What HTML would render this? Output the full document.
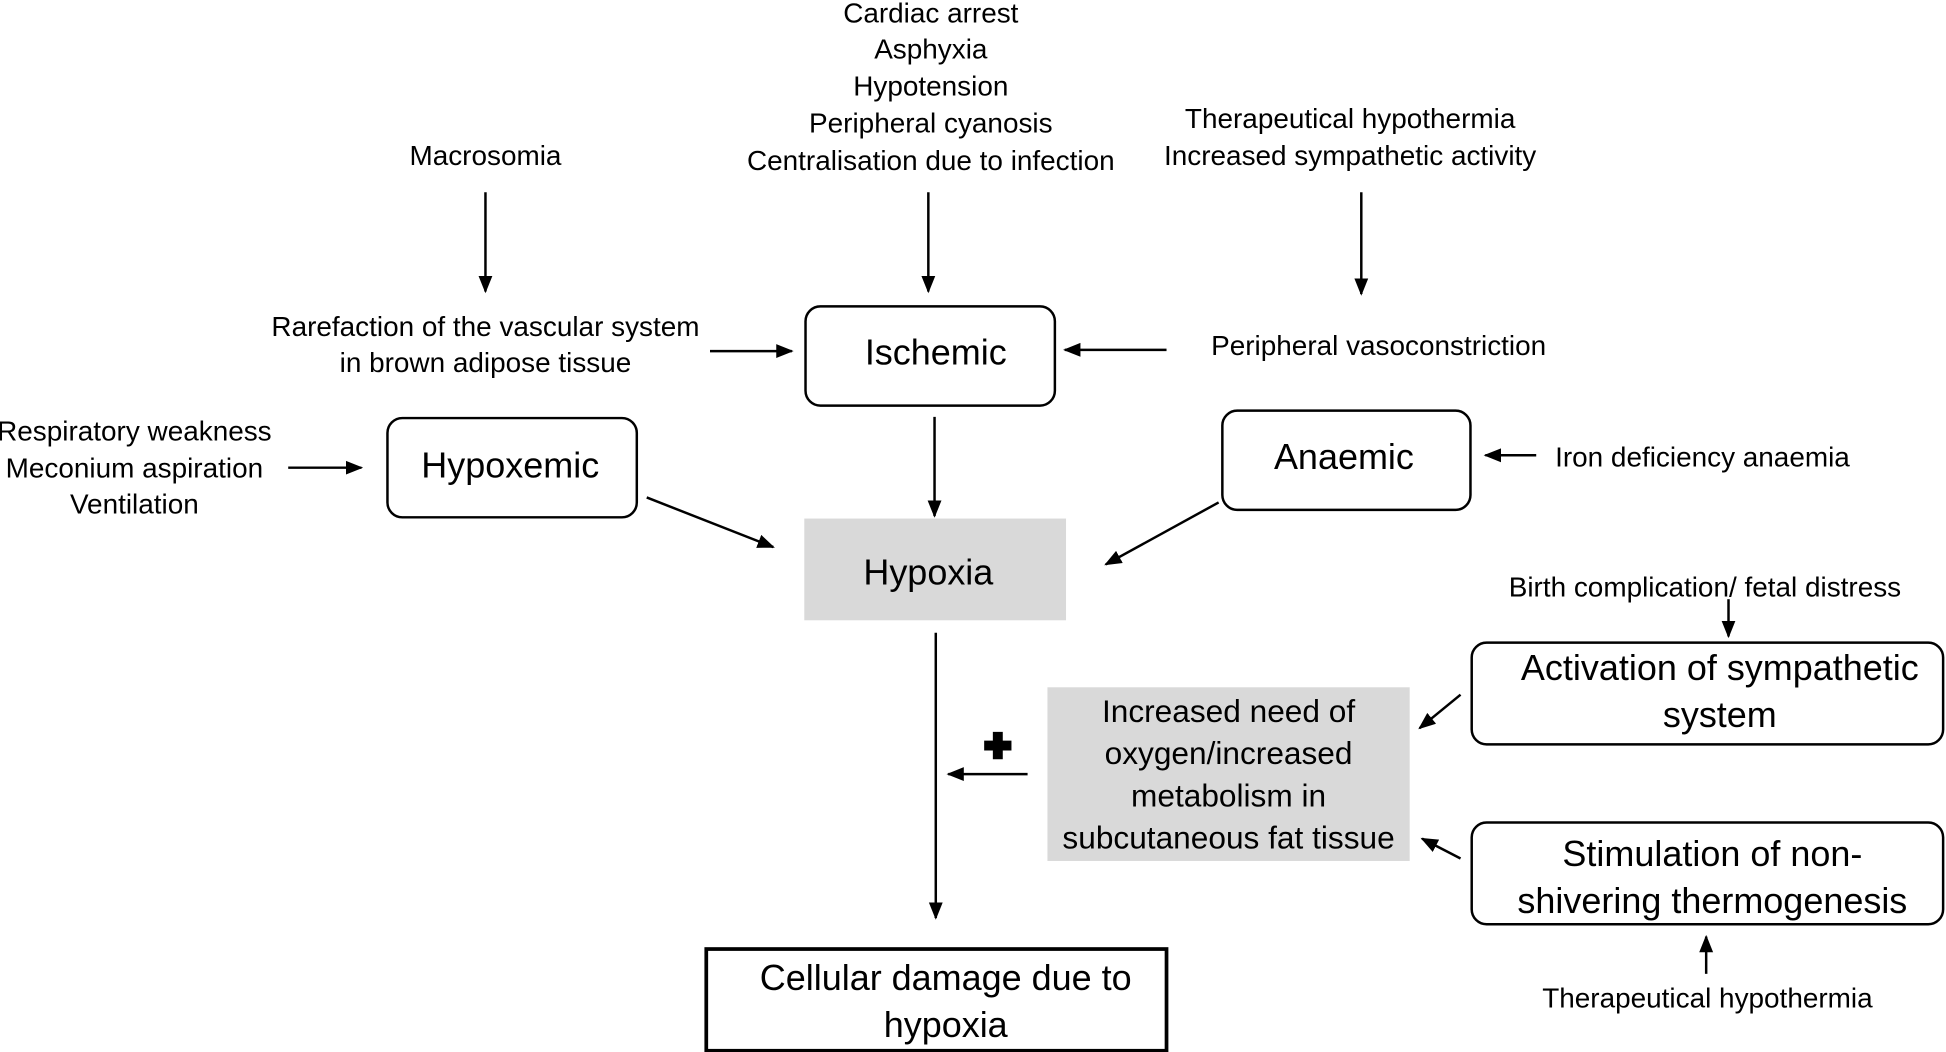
<!DOCTYPE html>
<html><head><meta charset="utf-8"><style>
html,body{margin:0;padding:0;background:#fff;}
svg{display:block;}
text{font-family:"Liberation Sans",sans-serif;fill:#000;}
.s{font-size:22.5px;}
.m{font-size:25.5px;}
.b{font-size:29px;}
</style></head><body>
<svg width="1946" height="1052" viewBox="0 0 1568 848" xmlns="http://www.w3.org/2000/svg">
<defs><marker id="a" viewBox="0 0 10 10" refX="9" refY="5" markerWidth="7" markerHeight="7" orient="auto-start-reverse"><path d="M0,1 L10,5 L0,9 z" fill="#000"/></marker></defs>
<g text-anchor="middle">
<text x="750" y="18" class="s">Cardiac arrest</text>
<text x="750" y="47" class="s">Asphyxia</text>
<text x="750" y="77" class="s">Hypotension</text>
<text x="750" y="107" class="s">Peripheral cyanosis</text>
<text x="750" y="137" class="s">Centralisation due to infection</text>
<text x="391" y="133" class="s">Macrosomia</text>
<text x="1088" y="103" class="s">Therapeutical hypothermia</text>
<text x="1088" y="133" class="s">Increased sympathetic activity</text>
<text x="391" y="271" class="s">Rarefaction of the vascular system</text>
<text x="391" y="300" class="s">in brown adipose tissue</text>
<text x="1111" y="286" class="s">Peripheral vasoconstriction</text>
<text x="108" y="355" class="s">Respiratory weakness</text>
<text x="108" y="385" class="s">Meconium aspiration</text>
<text x="108" y="414" class="s">Ventilation</text>
<text x="1372" y="376" class="s">Iron deficiency anaemia</text>
<text x="1374" y="481" class="s">Birth complication/ fetal distress</text>
<text x="1376" y="812" class="s">Therapeutical hypothermia</text>
</g>
<g stroke="#000" stroke-width="2" fill="none" marker-end="url(#a)">
<line x1="391" y1="155" x2="391" y2="235"/>
<line x1="748" y1="155" x2="748" y2="235"/>
<line x1="1097" y1="155" x2="1097" y2="237"/>
<line x1="572" y1="283" x2="638" y2="283"/>
<line x1="940" y1="282" x2="858" y2="282"/>
<line x1="232" y1="377" x2="291" y2="377"/>
<line x1="1238" y1="367" x2="1197" y2="367"/>
<line x1="753" y1="336" x2="753" y2="416"/>
<line x1="521" y1="401" x2="623" y2="441"/>
<line x1="982" y1="405" x2="891" y2="455"/>
<line x1="754" y1="510" x2="754" y2="740"/>
<line x1="1393" y1="483" x2="1393" y2="513"/>
<line x1="1177" y1="560" x2="1144" y2="587"/>
<line x1="1177" y1="692" x2="1146" y2="676"/>
<line x1="1375" y1="785" x2="1375" y2="755"/>
<line x1="828" y1="624" x2="764" y2="624"/>
</g>
<g stroke="#000" stroke-width="2" fill="#fff">
<rect x="649" y="247" width="201" height="80" rx="12"/>
<rect x="312" y="337" width="201" height="80" rx="12"/>
<rect x="985" y="331" width="200" height="80" rx="12"/>
<rect x="1186" y="518" width="380" height="82" rx="12"/>
<rect x="1186" y="663" width="380" height="82" rx="12"/>
<rect x="569" y="765" width="371" height="82" stroke-width="3"/>
</g>
<rect x="648" y="418" width="211" height="82" fill="#d9d9d9"/>
<rect x="844" y="554" width="292" height="140" fill="#d9d9d9"/>
<path d="M800,590h8v7h7v8h-7v7h-8v-7h-7v-8h7z" fill="#000"/>
<g text-anchor="middle">
<text x="754" y="294" class="b">Ischemic</text>
<text x="411" y="385" class="b">Hypoxemic</text>
<text x="1083" y="378" class="b">Anaemic</text>
<text x="748" y="471" class="b">Hypoxia</text>
<text x="762" y="798" class="b">Cellular damage due to</text>
<text x="762" y="836" class="b">hypoxia</text>
<text x="1386" y="548" class="b">Activation of sympathetic</text>
<text x="1386" y="586" class="b">system</text>
<text x="1380" y="698" class="b">Stimulation of non-</text>
<text x="1380" y="736" class="b">shivering thermogenesis</text>
<text x="990" y="582" class="m">Increased need of</text>
<text x="990" y="616" class="m">oxygen/increased</text>
<text x="990" y="650" class="m">metabolism in</text>
<text x="990" y="684" class="m">subcutaneous fat tissue</text>
</g>
</svg>
</body></html>
